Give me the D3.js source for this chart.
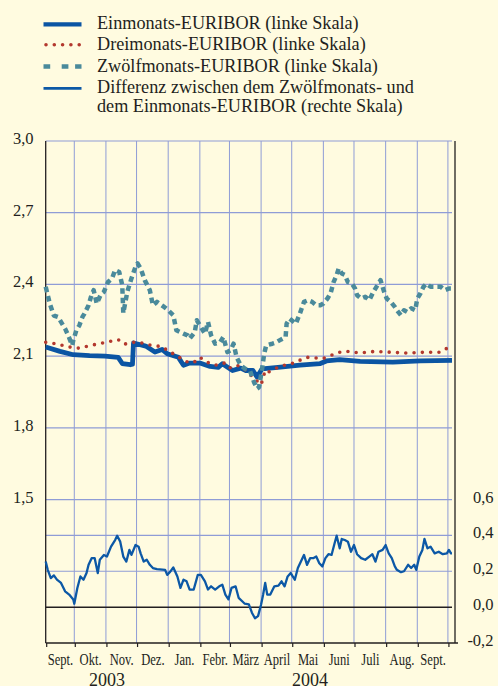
<!DOCTYPE html>
<html>
<head>
<meta charset="utf-8">
<script src="https://cdn.jsdelivr.net/npm/d3@7"></script>
<style>
  body { margin: 0; background: #fffbe0; }
  svg { display: block; font-family: "Liberation Serif", "Times New Roman", serif; }
</style>
</head>
<body>
<div id="chart"></div>
<script>
// Daten (Prozent p.a.)
var einmonat = [
  ["2003-09-03",2.138],["2003-09-17",2.12],["2003-09-30",2.106],["2003-10-16",2.102],["2003-10-31",2.10],
  ["2003-11-13",2.095],["2003-11-17",2.069],["2003-11-25",2.064],["2003-11-27",2.066],["2003-11-28",2.155],
  ["2003-12-10",2.142],["2003-12-19",2.117],["2003-12-26",2.128],["2003-12-31",2.11],["2004-01-11",2.095],
  ["2004-01-16",2.062],["2004-01-22",2.071],["2004-02-01",2.071],["2004-02-11",2.057],["2004-02-19",2.053],
  ["2004-02-23",2.068],["2004-03-04",2.04],["2004-03-12",2.05],["2004-03-17",2.04],["2004-03-24",2.04],
  ["2004-03-28",2.013],["2004-04-02",2.047],["2004-04-20",2.054],["2004-05-09",2.062],["2004-05-29",2.069],
  ["2004-06-04",2.08],["2004-06-17",2.085],["2004-07-07",2.078],["2004-08-08",2.075],["2004-09-04",2.08],
  ["2004-10-05",2.082]
];

var dreimonat = [
  ["2003-09-03",2.158],["2003-09-16",2.15],["2003-09-23",2.14],["2003-10-06",2.133],["2003-10-16",2.144],
  ["2003-10-29",2.155],["2003-11-13",2.169],["2003-11-19",2.15],["2003-11-26",2.157],["2003-12-03",2.159],
  ["2003-12-10",2.15],["2003-12-17",2.144],["2003-12-26",2.14],["2003-12-31",2.124],["2004-01-06",2.11],
  ["2004-01-13",2.092],["2004-01-20",2.075],["2004-01-26",2.073],["2004-02-01",2.095],["2004-02-08",2.075],
  ["2004-02-14",2.064],["2004-02-19",2.062],["2004-02-25",2.071],["2004-03-01",2.05],["2004-03-08",2.062],
  ["2004-03-14",2.053],["2004-03-23",2.016],["2004-04-01",1.98],["2004-04-05",2.04],["2004-04-08",2.033],
  ["2004-04-14",2.047],["2004-04-21",2.058],["2004-04-26",2.065],["2004-05-03",2.071],["2004-05-09",2.083],
  ["2004-05-16",2.095],["2004-05-24",2.093],["2004-05-31",2.089],["2004-06-07",2.1],["2004-06-14",2.113],
  ["2004-06-21",2.12],["2004-06-29",2.119],["2004-07-06",2.113],["2004-07-22",2.12],["2004-08-07",2.116],
  ["2004-08-22",2.113],["2004-09-07",2.116],["2004-09-23",2.116],["2004-09-29",2.13],["2004-10-05",2.15]
];

var zwoelfmonat = [
  ["2003-09-03",2.39],["2003-09-07",2.32],["2003-09-11",2.27],["2003-09-15",2.264],["2003-09-22",2.215],
  ["2003-09-25",2.187],["2003-09-29",2.145],["2003-09-30",2.166],["2003-10-03",2.208],["2003-10-06",2.229],
  ["2003-10-09",2.264],["2003-10-11",2.278],["2003-10-15",2.313],["2003-10-18",2.358],["2003-10-20",2.376],
  ["2003-10-23",2.32],["2003-10-27",2.358],["2003-10-30",2.369],["2003-11-03",2.41],["2003-11-07",2.425],
  ["2003-11-10",2.46],["2003-11-14",2.452],["2003-11-17",2.397],["2003-11-18",2.28],["2003-11-22",2.37],
  ["2003-11-26",2.425],["2003-11-30",2.474],["2003-12-02",2.488],["2003-12-05",2.467],["2003-12-09",2.418],
  ["2003-12-14",2.376],["2003-12-17",2.313],["2003-12-21",2.327],["2003-12-28",2.306],["2004-01-01",2.292],
  ["2004-01-06",2.271],["2004-01-09",2.208],["2004-01-13",2.2],["2004-01-16",2.194],["2004-01-20",2.187],
  ["2004-01-22",2.173],["2004-01-27",2.2],["2004-01-29",2.25],["2004-02-01",2.229],["2004-02-06",2.194],
  ["2004-02-09",2.243],["2004-02-12",2.187],["2004-02-16",2.152],["2004-02-21",2.159],["2004-02-24",2.18],
  ["2004-02-28",2.117],["2004-03-02",2.124],["2004-03-05",2.152],["2004-03-08",2.096],["2004-03-12",2.062],
  ["2004-03-16",2.048],["2004-03-21",2.04],["2004-03-25",1.992],["2004-03-28",1.964],["2004-03-30",1.97],
  ["2004-04-02",2.048],["2004-04-04",2.11],["2004-04-06",2.145],["2004-04-12",2.152],["2004-04-15",2.156],
  ["2004-04-19",2.166],["2004-04-22",2.173],["2004-04-25",2.18],["2004-04-26",2.236],["2004-04-29",2.257],
  ["2004-05-05",2.236],["2004-05-09",2.278],["2004-05-13",2.327],["2004-05-17",2.334],["2004-05-21",2.327],
  ["2004-05-25",2.313],["2004-05-29",2.313],["2004-06-01",2.32],["2004-06-05",2.341],["2004-06-08",2.362],
  ["2004-06-11",2.41],["2004-06-14",2.439],["2004-06-16",2.467],["2004-06-19",2.446],["2004-06-22",2.44],
  ["2004-06-25",2.41],["2004-06-29",2.403],["2004-07-02",2.383],["2004-07-04",2.355],["2004-07-08",2.341],
  ["2004-07-12",2.348],["2004-07-16",2.334],["2004-07-20",2.369],["2004-07-23",2.39],["2004-07-27",2.418],
  ["2004-07-30",2.376],["2004-08-02",2.341],["2004-08-06",2.327],["2004-08-10",2.306],["2004-08-12",2.292],
  ["2004-08-16",2.271],["2004-08-19",2.292],["2004-08-22",2.285],["2004-08-26",2.3],["2004-08-30",2.292],
  ["2004-09-01",2.341],["2004-09-04",2.362],["2004-09-07",2.39],["2004-09-10",2.403],["2004-09-14",2.39],
  ["2004-09-18",2.39],["2004-09-24",2.39],["2004-09-28",2.376],["2004-10-02",2.383],["2004-10-05",2.383]
];

// Differenz Zwoelfmonats- minus Einmonats-EURIBOR (rechte Skala)
var differenz = [
  ["2003-09-03",0.254],["2003-09-05",0.208],["2003-09-08",0.162],["2003-09-11",0.177],["2003-09-14",0.153],
  ["2003-09-18",0.135],["2003-09-22",0.088],["2003-09-26",0.07],["2003-09-30",0.043],["2003-10-01",0.019],
  ["2003-10-04",0.107],["2003-10-07",0.171],["2003-10-10",0.153],["2003-10-13",0.19],["2003-10-15",0.236],
  ["2003-10-18",0.273],["2003-10-21",0.273],["2003-10-24",0.19],["2003-10-26",0.264],["2003-10-30",0.291],
  ["2003-11-02",0.282],["2003-11-06",0.337],["2003-11-10",0.374],["2003-11-12",0.398],["2003-11-15",0.365],
  ["2003-11-18",0.282],["2003-11-21",0.254],["2003-11-24",0.319],["2003-11-26",0.291],["2003-11-30",0.346],
  ["2003-12-03",0.337],["2003-12-05",0.3],["2003-12-08",0.254],["2003-12-11",0.264],["2003-12-14",0.236],
  ["2003-12-17",0.218],["2003-12-21",0.212],["2003-12-29",0.208],["2003-12-31",0.18],["2004-01-03",0.198],
  ["2004-01-06",0.221],["2004-01-10",0.171],["2004-01-13",0.107],["2004-01-16",0.153],["2004-01-19",0.144],
  ["2004-01-22",0.098],["2004-01-26",0.098],["2004-01-30",0.18],["2004-02-02",0.18],["2004-02-06",0.144],
  ["2004-02-09",0.098],["2004-02-12",0.116],["2004-02-16",0.098],["2004-02-20",0.116],["2004-02-23",0.125],
  ["2004-02-26",0.07],["2004-02-29",0.043],["2004-03-03",0.107],["2004-03-07",0.116],["2004-03-10",0.052],
  ["2004-03-14",0.03],["2004-03-16",0.019],["2004-03-20",0.015],["2004-03-23",-0.031],["2004-03-26",-0.062],
  ["2004-03-29",-0.05],["2004-04-01",0.015],["2004-04-03",0.07],["2004-04-05",0.135],["2004-04-07",0.07],
  ["2004-04-10",0.07],["2004-04-14",0.116],["2004-04-18",0.12],["2004-04-21",0.144],["2004-04-24",0.116],
  ["2004-04-27",0.171],["2004-04-30",0.19],["2004-05-02",0.171],["2004-05-04",0.153],["2004-05-07",0.218],
  ["2004-05-10",0.254],["2004-05-13",0.291],["2004-05-16",0.236],["2004-05-19",0.273],["2004-05-22",0.273],
  ["2004-05-25",0.282],["2004-05-28",0.245],["2004-05-31",0.227],["2004-06-03",0.273],["2004-06-06",0.295],
  ["2004-06-09",0.291],["2004-06-12",0.356],["2004-06-14",0.398],["2004-06-17",0.328],["2004-06-19",0.38],
  ["2004-06-22",0.374],["2004-06-25",0.365],["2004-06-28",0.309],["2004-07-01",0.346],["2004-07-04",0.295],
  ["2004-07-08",0.273],["2004-07-12",0.264],["2004-07-16",0.282],["2004-07-19",0.295],["2004-07-22",0.254],
  ["2004-07-25",0.309],["2004-07-29",0.319],["2004-08-01",0.346],["2004-08-04",0.3],["2004-08-07",0.273],
  ["2004-08-10",0.227],["2004-08-12",0.208],["2004-08-16",0.195],["2004-08-19",0.2],["2004-08-23",0.236],
  ["2004-08-26",0.218],["2004-08-29",0.236],["2004-08-31",0.208],["2004-09-03",0.282],["2004-09-06",0.319],
  ["2004-09-08",0.38],["2004-09-11",0.328],["2004-09-14",0.337],["2004-09-18",0.3],["2004-09-22",0.309],
  ["2004-09-26",0.295],["2004-09-30",0.3],["2004-10-02",0.319],["2004-10-04",0.3],["2004-10-05",0.3]
];

var linksTicks = [3.0, 2.7, 2.4, 2.1, 1.8, 1.5];
var rechtsTicks = [0.6, 0.4, 0.2, 0.0, -0.2];
var monate = ["Sept.","Okt.","Nov.","Dez.","Jan.","Febr.","März","April","Mai","Juni","Juli","Aug.","Sept."];
var jahre = ["2003", "2004"];
var legende = [
  ["Einmonats-EURIBOR (linke Skala)"],
  ["Dreimonats-EURIBOR (linke Skala)"],
  ["Zwölfmonats-EURIBOR (linke Skala)"],
  ["Differenz zwischen dem Zwölfmonats- und", "dem Einmonats-EURIBOR (rechte Skala)"]
];

var width = 498, height = 686;
var pLeft = 45.7, pRight = 452, axisRight = 455, pTop = 141, pBottom = 643;
var grid = "#8f9cd6", ink = "#231f20";

var parse = d3.timeParse("%Y-%m-%d");
var start = parse("2003-09-03"), end = parse("2004-10-05");

var x = d3.scaleTime().domain([start, end]).range([pLeft, pRight]);
var yL = d3.scaleLinear().domain([0.9, 3.0]).range([pBottom, pTop]);
var yR = d3.scaleLinear().domain([-0.2, 0.6]).range([pBottom, 499.5]);

var svg = d3.select("#chart").append("svg")
  .attr("width", width)
  .attr("height", height);

svg.append("rect").attr("width", width).attr("height", height).attr("fill", "#fffbe0");

// Gitter
var months = d3.timeMonth.range(d3.timeMonth.ceil(start), end);
svg.append("g").selectAll("line")
  .data(months)
  .enter().append("line")
  .attr("x1", function(d) { return x(d); })
  .attr("x2", function(d) { return x(d); })
  .attr("y1", pTop)
  .attr("y2", pBottom)
  .attr("stroke", grid)
  .attr("stroke-width", 1);

svg.append("g").selectAll("line")
  .data(linksTicks)
  .enter().append("line")
  .attr("x1", pLeft).attr("x2", pRight)
  .attr("y1", function(d) { return yL(d); })
  .attr("y2", function(d) { return yL(d); })
  .attr("stroke", grid)
  .attr("stroke-width", 1.2);

svg.append("g").selectAll("line")
  .data(rechtsTicks.filter(function(d) { return d > 0 && d < 0.6; }))
  .enter().append("line")
  .attr("x1", pLeft).attr("x2", pRight)
  .attr("y1", function(d) { return yR(d); })
  .attr("y2", function(d) { return yR(d); })
  .attr("stroke", grid)
  .attr("stroke-width", 1.2);

// Nulllinie rechte Skala
svg.append("line")
  .attr("x1", pLeft).attr("x2", pRight)
  .attr("y1", yR(0)).attr("y2", yR(0))
  .attr("stroke", ink).attr("stroke-width", 1.5);

// Achsen
svg.append("line").attr("x1", pLeft).attr("x2", pLeft).attr("y1", pTop).attr("y2", pBottom)
  .attr("stroke", ink).attr("stroke-width", 1.3);
svg.append("line").attr("x1", axisRight).attr("x2", axisRight).attr("y1", pTop).attr("y2", pBottom)
  .attr("stroke", ink).attr("stroke-width", 1.3);
svg.append("line").attr("x1", pLeft).attr("x2", axisRight + 3).attr("y1", pBottom).attr("y2", pBottom)
  .attr("stroke", ink).attr("stroke-width", 1.3);

svg.append("g").selectAll("line")
  .data([start].concat(months))
  .enter().append("line")
  .attr("x1", function(d) { return x(d) + 1; })
  .attr("x2", function(d) { return x(d) + 1; })
  .attr("y1", pBottom)
  .attr("y2", pBottom + 4)
  .attr("stroke", ink)
  .attr("stroke-width", 1.2);

var fmt = function(v) { return d3.format(".1f")(v).replace(".", ",").replace("−", "-"); };

svg.append("g").selectAll("text")
  .data(linksTicks)
  .enter().append("text")
  .attr("x", 33.5)
  .attr("y", function(d) { return yL(d) + 3; })
  .attr("text-anchor", "end")
  .attr("font-size", 16.5)
  .attr("fill", ink)
  .text(fmt);

svg.append("g").selectAll("text")
  .data(rechtsTicks)
  .enter().append("text")
  .attr("x", 493.5)
  .attr("y", function(d) { return yR(d) + 3; })
  .attr("text-anchor", "end")
  .attr("font-size", 16.5)
  .attr("fill", ink)
  .text(fmt);

// Monatsbeschriftung
var monthStarts = d3.timeMonth.range(d3.timeMonth.floor(start), end);
svg.append("g").selectAll("text")
  .data(monthStarts)
  .enter().append("text")
  .attr("transform", function(d) {
    var a = x(d3.max([d, start])), b = x(d3.min([d3.timeMonth.offset(d, 1), end]));
    return "translate(" + ((a + b) / 2 + 0.5) + "," + 665 + ") scale(0.72,1)";
  })
  .attr("text-anchor", "middle")
  .attr("font-size", 17.5)
  .attr("fill", ink)
  .text(function(d, i) { return monate[i]; });

svg.append("g").selectAll("text")
  .data(jahre)
  .enter().append("text")
  .attr("x", function(d) {
    var a = x(d3.max([parse(d + "-01-01"), start])), b = x(d3.min([parse((+d + 1) + "-01-01"), end]));
    return (a + b) / 2;
  })
  .attr("y", 686)
  .attr("text-anchor", "middle")
  .attr("font-size", 18)
  .attr("fill", ink)
  .text(function(d) { return d; });

// Linien
function prep(arr) { return arr.map(function(d) { return { date: parse(d[0]), value: d[1] }; }); }

var lineL = d3.line()
  .x(function(d) { return x(d.date); })
  .y(function(d) { return yL(d.value); });
var lineR = d3.line()
  .x(function(d) { return x(d.date); })
  .y(function(d) { return yR(d.value); });

var stil = [
  { color: "#0b55a3", width: 4.8, dash: null, cap: "butt" },
  { color: "#b3382e", width: 3.6, dash: "0,8.3", cap: "round" },
  { color: "#4a8a9b", width: 4.5, dash: "5.5,4", cap: "butt" },
  { color: "#0c58a6", width: 2.3, dash: null, cap: "butt" }
];

svg.append("path").datum(prep(einmonat))
  .attr("d", lineL).attr("fill", "none")
  .attr("stroke", stil[0].color).attr("stroke-width", stil[0].width)
  .attr("stroke-linejoin", "round");

svg.append("path").datum(prep(dreimonat))
  .attr("d", lineL).attr("fill", "none")
  .attr("stroke", stil[1].color).attr("stroke-width", stil[1].width)
  .attr("stroke-dasharray", stil[1].dash).attr("stroke-linecap", "round");

svg.append("path").datum(prep(zwoelfmonat))
  .attr("d", lineL).attr("fill", "none")
  .attr("stroke", stil[2].color).attr("stroke-width", stil[2].width)
  .attr("stroke-dasharray", stil[2].dash).attr("stroke-linejoin", "round");

svg.append("path").datum(prep(differenz))
  .attr("d", lineR).attr("fill", "none")
  .attr("stroke", stil[3].color).attr("stroke-width", stil[3].width)
  .attr("stroke-linejoin", "round");

// Legende
var rowY = [24.3, 44.8, 66.5, 88.3];
var leg = svg.append("g").selectAll("g")
  .data(legende)
  .enter().append("g")
  .attr("transform", function(d, i) { return "translate(0," + rowY[i] + ")"; });

leg.append("line")
  .attr("x1", function(d, i) { return i === 1 ? 46 : 43.5; })
  .attr("x2", 81.5)
  .attr("y1", 0).attr("y2", 0)
  .attr("stroke", function(d, i) { return stil[i].color; })
  .attr("stroke-width", function(d, i) { return i === 3 ? 2.8 : i === 0 ? 4.2 : stil[i].width; })
  .attr("stroke-dasharray", function(d, i) { return i === 1 ? "0,8.3" : i === 2 ? "6.7,11.5,6.7,6.7" : null; })
  .attr("stroke-linecap", function(d, i) { return stil[i].cap; });

leg.append("text")
  .attr("x", 97)
  .attr("y", 5)
  .attr("font-size", 18.2)
  .attr("fill", ink)
  .selectAll("tspan")
  .data(function(d) { return d; })
  .enter().append("tspan")
  .attr("x", 97)
  .attr("dy", function(d, i) { return i === 0 ? 0 : 18.5; })
  .text(function(d) { return d; });
</script>
</body>
</html>
